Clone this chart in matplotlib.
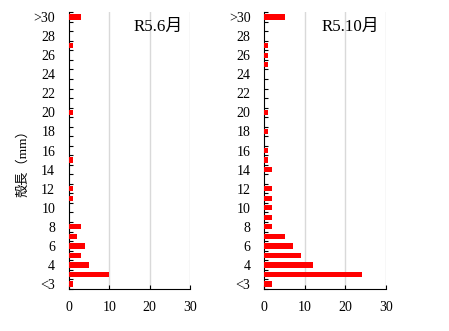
import matplotlib
matplotlib.use("Agg")
import matplotlib.pyplot as plt
import numpy as np

categories = ["<3"] + [str(i) for i in range(3, 30)] + [">30"]
tick_labels = ["<3", "4", "6", "8", "10", "12", "14", "16", "18", "20",
               "22", "24", "26", "28", ">30"]
june = [1, 10, 5, 3, 4, 2, 3, 0, 0, 1, 1, 0, 0, 1, 0, 0, 0, 0, 1,
        0, 0, 0, 0, 0, 0, 1, 0, 0, 3]
october = [2, 24, 12, 9, 7, 5, 2, 2, 2, 2, 2, 0, 2, 1, 1, 0, 1, 0, 1,
           0, 0, 0, 0, 1, 1, 1, 0, 0, 5]
titles = ["R5.6月", "R5.10月"]
ylabel = "殻長（mm）"
xticks = [0, 10, 20, 30]

fam = ["Liberation Serif", "Noto Sans CJK JP", "DejaVu Sans"]
plt.rcParams["font.family"] = fam

fig = plt.figure(figsize=(4.49, 3.31), dpi=100)
ax1 = fig.add_axes([0.1537, 0.1275, 0.2695, 0.8356])
ax2 = fig.add_axes([0.5886, 0.1275, 0.2710, 0.8356])

y = np.arange(len(categories))
for ax, vals, title, tx in [(ax1, june, titles[0], 0.735), (ax2, october, titles[1], 0.705)]:
    ax.barh(y, vals, height=0.55, color="#FF0000", zorder=3)
    ax.set_xlim(0, 30)
    ax.set_ylim(-0.5, len(categories) - 0.5)
    ax.set_xticks(xticks)
    ax.set_xticklabels([str(v) for v in xticks], fontsize=10)
    major_pos = [0] + list(range(2, len(categories) - 1, 2)) + [len(categories) - 1]
    ax.set_yticks(major_pos)
    ax.set_yticklabels(tick_labels, fontsize=10)
    ax.set_yticks(np.arange(-0.5, len(categories), 1.0), minor=True)
    ax.tick_params(axis="y", which="major", length=0, pad=10)
    ax.tick_params(axis="y", which="minor", length=3, direction="in", width=0.8)
    ax.tick_params(axis="x", which="major", length=3, direction="in", width=0.8, pad=9)
    for v in [10, 20, 30]:
        ax.axvline(v, color="#D9D9D9", lw=1.0, zorder=1)
    ax.spines["top"].set_visible(False)
    ax.spines["right"].set_visible(False)
    ax.spines["left"].set_color("black")
    ax.spines["bottom"].set_color("black")
    ax.text(tx, 0.946, title, transform=ax.transAxes, ha="center", va="center",
            fontsize=12.2)

fig.text(0.05, 0.517, ylabel, rotation=90, ha="center", va="center", fontsize=9.5)

fig.savefig("out.png", dpi=100)
